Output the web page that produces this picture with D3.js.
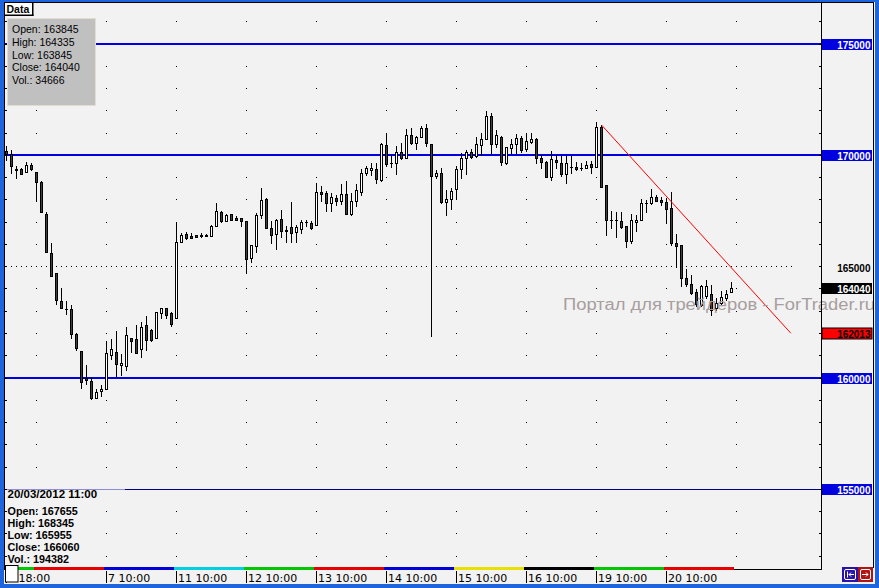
<!DOCTYPE html>
<html><head><meta charset="utf-8">
<script src="https://cdn.jsdelivr.net/npm/d3@7"></script>
<style>html,body{margin:0;padding:0;background:#f2f2f2;overflow:hidden}svg{display:block}</style>
</head><body>
<svg id="c" width="879" height="588"></svg>
<script>
// ---------- data (hourly RTS futures candles) ----------
const openV = [170185,170050,169375,169375,169240,169555,169240,168790,167350,165595,
164695,163480,163120,163120,161995,161230,160015,159880,159115,159430,
159520,161050,161185,160600,160555,161815,161770,161320,162400,162175,
161815,162940,163165,162940,162715,166090,166450,166360,166405,166400,
166405,166360,166810,167440,167035,167350,167170,167170,167035,165370,
165910,167305,168025,166720,166450,167125,166630,166765,166540,166675,
166990,166945,166855,168340,168295,167845,168070,167935,168250,167350,
167935,168340,169195,169330,169375,168880,170455,169650,169645,170140,
169870,170905,170545,170815,171220,170500,169060,169195,167890,168025,
168475,169375,169870,170140,169960,170455,170725,171760,170500,170815,
169645,170320,170500,170770,170275,170590,170725,169870,169690,169015,
169780,169645,169150,169465,169465,169420,169420,169600,169465,171265,
168655,167080,167080,167035,166810,166135,166990,167080,167845,167845,
168115,167980,167890,167655,166045,165955,164515,164245,163885,163300,
163705,163795,163165,163390,163615,163845];
const highV = [170410,170230,169510,169420,169690,169645,169240,168835,167440,166045,
164695,164065,163480,163300,162040,161230,160600,160060,159520,159700,
161680,161770,162130,161095,162310,161815,162400,162535,162805,162220,
162985,163165,163165,162985,166990,166495,166540,166495,166405,166495,
166450,166855,167845,167485,167350,167350,167260,167170,167035,165955,
167395,168520,168070,167035,167125,167530,166810,167890,166855,167080,
167080,167035,168745,168610,168385,168295,168205,168700,168835,168295,
168700,169375,169510,169645,169645,170545,170995,170005,170410,170545,
171175,171220,170860,171310,171400,170500,169330,169420,168430,168520,
169510,170095,170230,170275,170815,170995,171985,171895,171130,170860,
170365,170725,170950,170860,170995,170995,170770,170005,169735,170185,
170005,169960,169960,169960,169690,169645,169735,169735,171490,171355,
168655,167485,167440,167440,166810,167350,167305,168025,167980,168475,
168205,168115,168070,168345,166450,165955,164875,164605,164020,164200,
164425,164200,163615,163930,163975,164335];
const lowV = [169780,169195,168970,169150,169240,169330,167935,167440,165640,164560,
163345,163165,162895,161815,161275,159565,159745,159070,159115,159205,
159520,160870,160105,160150,160375,161185,161140,160960,161275,161680,
161815,162715,162715,162355,162715,166090,166225,166270,166315,166315,
166360,166360,166810,166990,167035,167080,167080,166810,164695,165190,
165640,167170,166720,166045,165775,166315,166090,166090,166090,166495,
166810,166675,166855,167935,167485,167485,167755,167800,167350,167305,
167710,168205,169105,169105,168745,168835,169510,169465,169150,169825,
169870,170500,170275,170815,170410,161905,168970,167845,167305,167575,
168070,168970,169150,169870,169915,170005,170725,170095,170365,169555,
169600,170095,170095,170140,170185,170545,169645,169420,169015,168880,
169420,169060,168745,169195,169330,169330,169420,169195,169465,168565,
166405,166720,166315,166720,165865,166045,166585,167080,167440,167800,
167935,167755,166945,165955,164965,164155,164155,163795,163255,163255,
163615,162850,163075,163345,163525,163845];
const closeV = [170050,169510,169330,169150,169555,169375,168790,167440,165640,164560,
163525,163165,163100,161995,161365,159835,159925,159115,159385,159520,
161140,161320,160645,160690,161950,161680,161140,162310,161725,161725,
162985,163165,162850,162445,166090,166405,166270,166270,166315,166410,
166400,166810,167485,167035,167305,167080,167080,167035,165325,165955,
167305,167980,166720,166405,167080,166585,166600,166495,166765,166990,
166985,166720,168340,168250,167845,168115,167935,168250,167350,167935,
168430,169195,169420,169420,168925,170500,169600,169640,170140,169870,
170905,170545,170815,171220,170545,169060,169195,167890,168025,168385,
169375,169870,170140,169915,170500,170725,171760,170500,170905,169690,
170365,170500,170770,170230,170635,170725,169870,169690,169015,169825,
169690,169150,169645,169460,169375,169415,169555,169465,171265,168565,
167080,167075,167075,166765,166135,167080,167080,167845,167840,168115,
167935,167890,167575,166060,165910,164515,164245,163840,163345,164155,
164155,163075,163390,163660,163795,164040];

const xTickIndex  = [0, 20, 34, 48, 62, 76, 90, 104, 118, 132];
const xTickLabels = ["5 18:00","7 10:00","11 10:00","12 10:00","13 10:00","14 10:00","15 10:00","16 10:00","19 10:00","20 10:00"];
const dayStartIndex = [0, 6, 20, 34, 48, 62, 76, 90, 104, 118, 132, 146];
const dayColors = ["#00c800","#e80000","#0000d8","#00d0e0","#00c800","#e80000","#0000d8","#e8e000","#000000","#00c800","#e80000"];

const hLevels = [175000, 170000, 160000];   // blue horizontal lines
const hLevelThin = 155000;                  // thin navy line
const dottedLevel = 165000;
const axisLabelValues = [175000, 170000, 165000, 160000, 155000];
const boxedAxisLabels = [175000, 170000, 160000, 155000];
const lastPrice = 164040;
const trendIndex = [119, 156.8];
const trendValue = [171355, 162013];

const infoTopLines = ["Open: 163845","High: 164335","Low: 163845","Close: 164040","Vol.: 34666"];
const infoBottomTitle = "20/03/2012 11:00";
const infoBottomLines = ["Open: 167655","High: 168345","Low: 165955","Close: 166060","Vol.: 194382"];
const watermark = "Портал для трейдеров - ForTrader.ru";

// ---------- drawing ----------
const svg = d3.select("#c");
const BG = "#f2f2f2";
const x = d3.scaleLinear().domain([0, 145]).range([6.2, 731.8]);
const y = d3.scaleLinear().domain([155000, 175000]).range([489.4, 44]);
const col = i => Math.round(x(i) - 0.5);
const row = v => Math.round(y(v));
const SANS = "'Liberation Sans', Arial, sans-serif";

svg.append("rect").attr("width", 879).attr("height", 588).attr("fill", BG);

const plot = svg.append("g");
const defs = svg.append("defs");
defs.append("clipPath").attr("id", "pc").append("rect").attr("x", 5).attr("y", 3).attr("width", 816).attr("height", 566);
defs.append("clipPath").attr("id", "wm").append("rect").attr("x", 5).attr("y", 3).attr("width", 868).attr("height", 566);
const pg = plot.append("g").attr("clip-path", "url(#pc)");

// grid dots & side ticks
const gridIdx = dayStartIndex.slice(1);
const levels = d3.range(152000, 176001, 1000);
levels.forEach(lv => {
  const r = Math.floor(y(lv));
  gridIdx.forEach(gi => {
    pg.append("rect").attr("x", col(gi)).attr("y", r).attr("width", 1).attr("height", 1).attr("fill", "#000");
  });
  svg.append("rect").attr("x", 5).attr("y", r).attr("width", 2).attr("height", 1).attr("fill", "#000");
  svg.append("rect").attr("x", 819).attr("y", r).attr("width", 2).attr("height", 1).attr("fill", "#000");
});

// dotted 165000 line
pg.append("line").attr("x1", 6).attr("x2", 792)
  .attr("y1", Math.floor(y(dottedLevel)) + 0.5).attr("y2", Math.floor(y(dottedLevel)) + 0.5)
  .attr("stroke", "#000").attr("stroke-width", 1).attr("stroke-dasharray", "1,4");

// horizontal blue lines
hLevels.forEach(v => {
  pg.append("rect").attr("x", 5).attr("y", Math.round(y(v)) - 1).attr("width", 816).attr("height", 2).attr("fill", "#0000e0");
});
pg.append("rect").attr("x", 5).attr("y", Math.floor(y(hLevelThin))).attr("width", 816).attr("height", 1).attr("fill", "#00008c");
pg.append("rect").attr("x", 5).attr("y", Math.floor(y(hLevelThin))).attr("width", 120).attr("height", 1).attr("fill", "#8c8cd8");

// watermark (behind candles)
svg.append("text").attr("x", 563).attr("y", 310).attr("font-family", SANS).attr("font-size", 17.3)
  .attr("textLength", 312).attr("lengthAdjust", "spacingAndGlyphs")
  .attr("clip-path", "url(#wm)")
  .attr("fill", "#a89e9e").text(watermark);

// candles
const cg = pg.append("g");
openV.forEach((o, i) => {
  const c = closeV[i], h = highV[i], l = lowV[i];
  const cx = col(i);
  const hr = row(h), lr = row(l);
  cg.append("rect").attr("x", cx).attr("y", hr).attr("width", 1).attr("height", Math.max(1, lr - hr + 1)).attr("fill", "#000");
  const tr = row(Math.max(o, c)), br = row(Math.min(o, c));
  cg.append("rect").attr("x", cx - 1).attr("y", tr).attr("width", 3).attr("height", br - tr + 1).attr("fill", "#000");
  if (br - tr > 1) {
    cg.append("rect").attr("x", cx).attr("y", tr + 1).attr("width", 1).attr("height", br - tr - 1)
      .attr("fill", c >= o ? "#ffffff" : "#404040");
  }
});

// trend line
pg.append("line")
  .attr("x1", x(trendIndex[0])).attr("y1", y(trendValue[0]))
  .attr("x2", x(trendIndex[1])).attr("y2", y(trendValue[1]))
  .attr("stroke", "#ff0000").attr("stroke-width", 1);

// top-left data box
svg.append("rect").attr("x", 7.5).attr("y", 18.5).attr("width", 88).attr("height", 87)
  .attr("fill", "#c0c0c0").attr("stroke", "#e2ddd0");
infoTopLines.forEach((t, k) => {
  svg.append("text").attr("x", 12).attr("y", 33.3 + k * 12.7).attr("font-family", SANS)
    .attr("font-size", 10.5).attr("fill", "#000").text(t);
});
svg.append("rect").attr("x", 5).attr("y", 3).attr("width", 28).attr("height", 13).attr("fill", "#fff");
svg.append("rect").attr("x", 32).attr("y", 3).attr("width", 1.5).attr("height", 13).attr("fill", "#000");
svg.append("rect").attr("x", 5).attr("y", 14.5).attr("width", 28.5).attr("height", 1.5).attr("fill", "#000");
svg.append("text").attr("x", 6.5).attr("y", 13).attr("font-family", SANS).attr("font-weight", "bold")
  .attr("font-size", 10.5).attr("fill", "#000").text("Data");

// bottom-left info
svg.append("text").attr("x", 7.5).attr("y", 498.3).attr("font-family", SANS).attr("font-weight", "bold")
  .attr("font-size", 11.5).attr("fill", "#000").text(infoBottomTitle);
infoBottomLines.forEach((t, k) => {
  svg.append("text").attr("x", 7.5).attr("y", 515 + k * 11.9).attr("font-family", SANS).attr("font-weight", "bold")
    .attr("font-size", 10.8).attr("fill", "#000").text(t);
});

// frame lines
svg.append("rect").attr("x", 4).attr("y", 2).attr("width", 1).attr("height", 568).attr("fill", "#000");
svg.append("rect").attr("x", 4).attr("y", 2).attr("width", 870).attr("height", 1).attr("fill", "#000");
svg.append("rect").attr("x", 821).attr("y", 3).attr("width", 1).attr("height", 567).attr("fill", "#000");
svg.append("rect").attr("x", 873).attr("y", 2).attr("width", 1).attr("height", 566).attr("fill", "#000");
svg.append("rect").attr("x", 5).attr("y", 569).attr("width", 816).attr("height", 1).attr("fill", "#000");

// day color bands
dayColors.forEach((clr, k) => {
  const x0 = Math.max(5, Math.round(x(dayStartIndex[k] - 0.5)));
  const x1 = Math.round(x(dayStartIndex[k + 1] - 0.5));
  svg.append("rect").attr("x", x0).attr("y", 567).attr("width", x1 - x0).attr("height", 3).attr("fill", clr);
});

// x axis ticks & labels
xTickIndex.forEach((ti, k) => {
  const cx = col(ti);
  svg.append("rect").attr("x", cx).attr("y", 571).attr("width", 1).attr("height", 12).attr("fill", "#000");
  svg.append("text").attr("x", cx + 2).attr("y", 581.5).attr("font-family", "'DejaVu Sans', Verdana, sans-serif")
    .attr("font-size", 11).attr("fill", "#000").text(xTickLabels[k]);
});
// small white box at bottom-left
svg.append("rect").attr("x", 5.5).attr("y", 565.5).attr("width", 12.5).attr("height", 16.5)
  .attr("fill", "#fff").attr("stroke", "#000");

// right axis labels
function axisBox(v, fill, txtFill, stroke) {
  const r = row(v);
  svg.append("rect").attr("x", 822).attr("y", r - 5).attr("width", 50).attr("height", 11)
    .attr("fill", fill).attr("stroke", stroke || "none").attr("stroke-width", stroke ? 1 : 0);
  svg.append("text").attr("x", 870.5).attr("y", r + 4.5).attr("text-anchor", "end")
    .attr("font-family", SANS).attr("font-weight", "bold").attr("font-size", 10)
    .attr("fill", txtFill).text(d3.format("d")(v));
}
axisLabelValues.forEach(v => {
  if (boxedAxisLabels.includes(v)) axisBox(v, "#0000e0", "#ffffff");
  else {
    svg.append("text").attr("x", 870.5).attr("y", row(v) + 4.5).attr("text-anchor", "end")
      .attr("font-family", SANS).attr("font-weight", "bold").attr("font-size", 10)
      .attr("fill", "#000").text(d3.format("d")(v));
  }
});
axisBox(lastPrice, "#000000", "#ffffff");
axisBox(trendValue[1], "#ff0000", "#000000", "#000");

// bottom-right buttons
svg.append("rect").attr("x", 842).attr("y", 567).attr("width", 16).attr("height", 15).attr("fill", "#2a14a8");
svg.append("rect").attr("x", 858).attr("y", 567).attr("width", 15).attr("height", 15).attr("fill", "#b01414");
svg.append("rect").attr("x", 844.5).attr("y", 569.5).attr("width", 11).attr("height", 10).attr("fill", "none").attr("stroke", "#fff").attr("rx", 1.5);
svg.append("rect").attr("x", 860.5).attr("y", 569.5).attr("width", 10).attr("height", 10).attr("fill", "none").attr("stroke", "#fff").attr("rx", 1.5);
svg.append("path").attr("d", "M847.5,571.5V577.5M849,574.5H854M851,572.5L849,574.5L851,576.5").attr("stroke", "#fff").attr("fill", "none");
svg.append("path").attr("d", "M862,574.5H868M866,572.5L868,574.5L866,576.5").attr("stroke", "#fff").attr("fill", "none");

// outer blue window frame
svg.append("rect").attr("x", 0).attr("y", 0).attr("width", 4).attr("height", 588).attr("fill", "#1e64dc");
svg.append("rect").attr("x", 875).attr("y", 0).attr("width", 4).attr("height", 588).attr("fill", "#1e64dc");
svg.append("rect").attr("x", 0).attr("y", 584).attr("width", 879).attr("height", 4).attr("fill", "#1e64dc");
svg.append("rect").attr("x", 0).attr("y", 0).attr("width", 879).attr("height", 2).attr("fill", "#1e64dc");
</script>
</body></html>
